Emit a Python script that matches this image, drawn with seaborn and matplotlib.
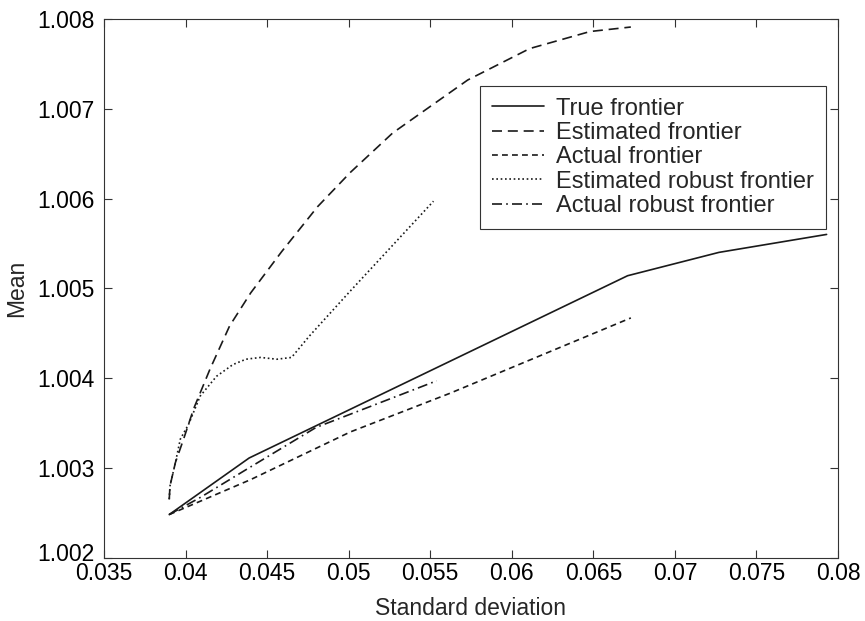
import matplotlib
matplotlib.use("Agg")
import matplotlib.pyplot as plt
import matplotlib.transforms as mtransforms
import seaborn as sns

# ---- data ----
true_sd = [0.0390, 0.0439, 0.0671, 0.0727, 0.0793]
true_mean = [1.00248, 1.00311, 1.00514, 1.00540, 1.00560]

est_sd = [0.0390, 0.03905, 0.03938, 0.03988, 0.0405, 0.0415, 0.0427, 0.0440,
          0.0459, 0.0481, 0.0501, 0.0527, 0.0573, 0.0611, 0.0648, 0.0673]
est_mean = [1.00265, 1.00280, 1.00306, 1.00332, 1.00366, 1.00410, 1.00458, 1.00495,
            1.00541, 1.00591, 1.00629, 1.00673, 1.00732, 1.00767, 1.00786, 1.00791]

act_sd = [0.0390, 0.0440, 0.0501, 0.0562, 0.0673]
act_mean = [1.00248, 1.00287, 1.00340, 1.00383, 1.00467]

est_rob_sd = [0.0390, 0.03905, 0.03938, 0.03968, 0.0402, 0.0409, 0.0419, 0.0429,
              0.0437, 0.0446, 0.0456, 0.0465, 0.0476, 0.0489, 0.0500, 0.0552]
est_rob_mean = [1.00265, 1.00280, 1.00306, 1.00332, 1.00349, 1.00380, 1.00402, 1.00415,
                1.00421, 1.00423, 1.00421, 1.00423, 1.00447, 1.00473, 1.00495, 1.00597]

act_rob_sd = [0.0390, 0.0409, 0.0438, 0.0480, 0.0554]
act_rob_mean = [1.00248, 1.00267, 1.00299, 1.00345, 1.00397]

x_ticks = [0.035, 0.04, 0.045, 0.05, 0.055, 0.06, 0.065, 0.07, 0.075, 0.08]
x_labels = ["0.035", "0.04", "0.045", "0.05", "0.055", "0.06", "0.065", "0.07", "0.075", "0.08"]
y_ticks = [1.002, 1.003, 1.004, 1.005, 1.006, 1.007, 1.008]
y_labels = ["1.002", "1.003", "1.004", "1.005", "1.006", "1.007", "1.008"]

sns.set_theme(style="ticks")
plt.rcParams["font.family"] = ["Liberation Sans", "DejaVu Sans"]
plt.rcParams["axes.edgecolor"] = "#333333"
plt.rcParams["axes.linewidth"] = 0.8

fig = plt.figure(figsize=(8.65, 6.21), dpi=100)
ax = fig.add_axes([0.1202, 0.1020, 0.8486, 0.8675])

ink = "#1a1a1a"
lw = 1.2
fs = 16.5
series = [
    (true_sd, true_mean, "True frontier", "-"),
    (est_sd, est_mean, "Estimated frontier", (0, (6, 3.5))),
    (act_sd, act_mean, "Actual frontier", (0, (3.5, 2.5))),
    (est_rob_sd, est_rob_mean, "Estimated robust frontier", (0, (1, 1.6))),
    (act_rob_sd, act_rob_mean, "Actual robust frontier", (0, (6, 2.5, 1, 2.5))),
]
for xs, ys, name, ls in series:
    sns.lineplot(x=xs, y=ys, ax=ax, color=ink, linewidth=lw, linestyle=ls,
                 label=name, sort=False, estimator=None)

ax.set_xlim(0.035, 0.08)
ax.set_ylim(1.002, 1.008)
ax.set_xticks(x_ticks)
ax.set_xticklabels(x_labels)
ax.set_yticks(y_ticks)
ax.set_yticklabels(y_labels)
ax.tick_params(direction="in", length=6, width=0.8, color="#333333",
               top=True, right=True, labelsize=fs, labelcolor="black")
ax.tick_params(axis="x", pad=3)
ax.tick_params(axis="y", pad=7)
ax.set_xlabel("Standard deviation", fontsize=fs, labelpad=9)
ax.set_ylabel("Mean", fontsize=fs, labelpad=6)
for s in ax.spines.values():
    s.set_visible(True)

# bottom y label sits a little above its tick, as in the original
lowest = ax.get_yticklabels()[0]
lowest.set_transform(lowest.get_transform() +
                     mtransforms.ScaledTranslation(0, 4 / 72, fig.dpi_scale_trans))

leg = ax.legend(loc="upper right", bbox_to_anchor=(0.983, 0.876), fontsize=17,
                frameon=True, fancybox=False, framealpha=1, edgecolor="#333333",
                handlelength=2.2, handletextpad=0.5, labelspacing=0.1,
                borderpad=0.5, borderaxespad=0)
leg.get_frame().set_linewidth(0.8)

fig.savefig("out.png", dpi=100)
